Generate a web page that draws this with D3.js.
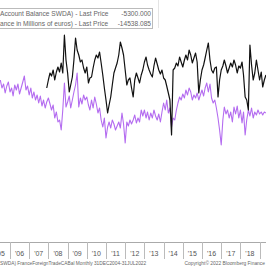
<!DOCTYPE html>
<html><head><meta charset="utf-8">
<script src="https://cdn.jsdelivr.net/npm/d3@7"></script>
<style>
body{margin:0;background:#fff;overflow:hidden}
svg{display:block}
text{font-family:"Liberation Sans",Arial,sans-serif}
</style>
</head><body>
<svg id="chart" width="266" height="266"></svg>
<script>
// ---- data ----
const yearLabels = ["'05","'06","'07","'08","'09","'10","'11","'12","'13","'14","'15","'16","'17","'18"];
const years = [2005,2006,2007,2008,2009,2010,2011,2012,2013,2014,2015,2016,2017,2018];

const legendNames = ["Account Balance SWDA) - Last Price", "ance in Millions of euros) - Last Price"];
const legendValues = ["-5300.000", "-14538.085"];

// trade balance (purple), monthly from Jul 2005, billions of euros
const purpleStart = [2005, 6];
const purpleValues = [
-5.0,-5.8,-5.4,-6.3,-5.6,-5.2,-6.2,-5.8,-6.6,-5.5,-6.0,-5.4,-6.4,-5.8,-5.2,-4.6,-6.0,-5.6,-6.5,-5.8,
-6.8,-6.2,-7.0,-6.5,-7.3,-6.6,-7.6,-7.0,-7.8,-7.2,-6.8,-7.4,-8.0,-7.5,-8.8,-8.2,-9.2,-9.0,-10.0,-8.0,
-5.3,-7.7,-7.2,-6.6,-7.8,-7.0,-6.2,-5.5,-4.3,-7.7,-6.8,-7.4,-6.5,-7.0,-6.7,-7.5,-8.0,-7.0,-7.8,-6.7,
-7.4,-8.3,-7.8,-9.0,-9.7,-8.8,-10.8,-9.7,-9.2,-9.8,-9.0,-9.4,-10.0,-9.6,-9.2,-9.8,-8.3,-9.4,-11.3,-9.2,
-9.6,-9.0,-9.4,-9.0,-8.5,-9.3,-8.8,-9.2,-8.0,-8.6,-8.0,-8.8,-8.2,-9.0,-8.3,-8.8,-8.0,-8.6,-9.0,-8.4,
-9.2,-8.2,-7.3,-8.0,-7.0,-8.3,-7.8,-9.7,-8.8,-9.0,-8.0,-7.3,-6.7,-7.0,-6.4,-6.8,-6.0,-6.5,-5.8,-6.2,
-7.0,-6.5,-6.8,-6.3,-7.0,-6.5,-6.0,-6.6,-5.8,-5.3,-6.2,-5.4,-6.8,-7.3,-7.0,-7.8,-8.8,-10.0,-11.5,-9.0,
-7.7,-8.4,-8.0,-8.8,-8.2,-9.2,-7.7,-8.4,-7.6,-8.8,-8.0,-9.3,-8.2,-10.5,-9.0,-8.0,-8.6,-7.8,-8.8,-8.2,
-8.5,-8.0,-8.4,-8.2,-8.5,-8.2,-8.3
];

// current account balance (black), monthly from Dec 2007
const blackStart = [2007, 11];
const blackValues = [
-5.8,-5.0,-4.3,-4.6,-4.0,-5.0,-4.2,-3.7,-4.2,-3.3,-4.3,-0.5,-3.0,-4.3,-6.2,-5.5,-4.7,-3.0,-0.8,-2.0,
-2.5,-3.2,-3.0,-3.8,-4.3,-3.7,-5.3,-4.8,-4.7,-3.8,-3.0,-2.5,-2.8,-2.2,-3.3,-4.5,-5.8,-7.0,-8.3,-7.5,
-6.7,-5.5,-4.3,-3.8,-3.3,-2.5,-1.2,-1.8,-2.5,-4.0,-5.5,-5.0,-4.8,-5.8,-6.7,-5.0,-4.3,-4.8,-5.3,-4.5,
-4.0,-3.2,-2.7,-3.5,-4.0,-4.4,-4.7,-3.6,-2.8,-3.4,-4.0,-4.4,-4.0,-4.8,-5.0,-5.6,-6.3,-7.0,-10.5,-4.0,
-3.8,-3.3,-3.6,-2.7,-3.2,-3.7,-3.0,-2.5,-3.0,-2.0,-2.5,-3.3,-2.8,-2.3,-3.2,-6.3,-5.0,-4.0,-3.5,-2.8,
-2.0,-1.3,-3.0,-4.0,-4.3,-3.8,-3.7,-6.7,-5.0,-4.0,-3.6,-3.0,-3.6,-4.3,-3.8,-3.3,-3.7,-3.0,-3.5,-4.3,
-3.6,-3.8,-3.2,-4.5,-6.7,-7.0,-8.0,-1.5,-3.5,-5.0,-4.3,-3.0,-4.0,-5.0,-4.2,-5.7,-5.0,-4.5
];

const footerLeft = "SWDA) FranceForeignTradeCABal   Monthly 31DEC2004-31JUL2022";
const footerRight = "Copyright\u00A9 2022 Bloomberg Finance";

// ---- chart ----
const svg = d3.select("#chart");
const x = d3.scaleUtc()
  .domain([new Date(Date.UTC(2006,0,1)), new Date(Date.UTC(2019,0,1))])
  .range([10, 259.6]);
const y = d3.scaleLinear().domain([0, -12]).range([30, 150]);

const toSeries = (start, vals) => vals.map((v,i) => ({d: new Date(Date.UTC(start[0], start[1]+i, 1)), v}));
const line = d3.line().x(p => x(p.d)).y(p => y(p.v));

svg.append("path").datum(toSeries(purpleStart, purpleValues))
  .attr("d", line).attr("fill","none").attr("stroke","#b46cf0").attr("stroke-width",1.1)
  .attr("stroke-linejoin","round");
svg.append("path").datum(toSeries(blackStart, blackValues))
  .attr("d", line).attr("fill","none").attr("stroke","#111").attr("stroke-width",1.2)
  .attr("stroke-linejoin","round");

// legend box
const lg = svg.append("g");
lg.append("rect").attr("x",-2).attr("y",8.5).attr("width",154.5).attr("height",20)
  .attr("fill","#fff").attr("fill-opacity",0.85).attr("stroke","#bbb").attr("stroke-width",1);
legendNames.forEach((n,i) => {
  lg.append("text").attr("x",0).attr("y",16 + i*9.5).attr("font-size",6.6).attr("fill","#666").text(n);
  lg.append("text").attr("x",151).attr("y",16 + i*9.5).attr("font-size",6.6).attr("fill","#666")
    .attr("text-anchor","end").text(legendValues[i]);
});
svg.append("line").attr("x1",158.5).attr("x2",158.5).attr("y1",0).attr("y2",28)
  .attr("stroke","#e4e4e4").attr("stroke-width",1);

// x axis band
const axisY = 242;
svg.append("line").attr("x1",0).attr("x2",266).attr("y1",axisY+0.5).attr("y2",axisY+0.5)
  .attr("stroke","#aaa").attr("stroke-width",1);
const xa = svg.append("g");
years.concat([2019]).forEach(yr => {
  const bx = Math.round(x(new Date(Date.UTC(yr,0,1)))) + 0.5;
  xa.append("line").attr("x1",bx).attr("x2",bx).attr("y1",axisY).attr("y2",259)
    .attr("stroke","#bbb").attr("stroke-width",1);
});
years.forEach((yr,i) => {
  xa.append("text").attr("x", x(new Date(Date.UTC(yr,6,1)))).attr("y",256)
    .attr("text-anchor","middle").attr("font-size",7).attr("fill","#555").text(yearLabels[i]);
});

svg.append("text").attr("x",0).attr("y",264.5).attr("font-size",4.8).attr("fill","#666").text(footerLeft);
svg.append("text").attr("x",265).attr("y",264.5).attr("font-size",4.9).attr("fill","#666")
  .attr("text-anchor","end").text(footerRight);
</script>
</body></html>
